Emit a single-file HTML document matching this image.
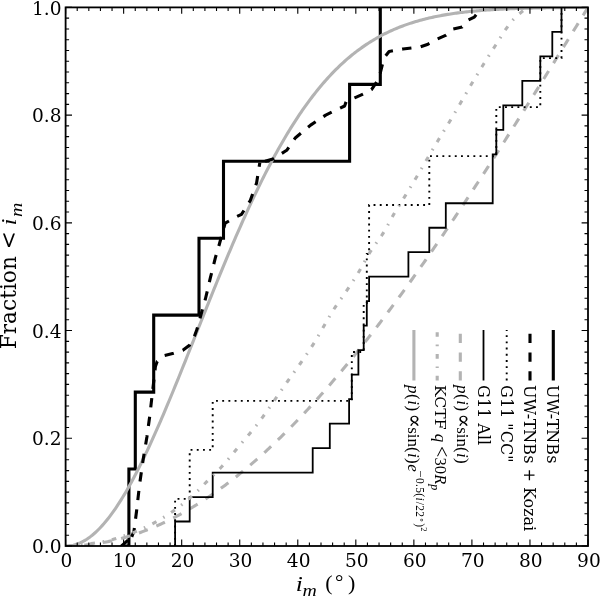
<!DOCTYPE html>
<html><head><meta charset="utf-8"><title>Fraction vs i_m</title>
<style>html,body{margin:0;padding:0;background:#fff}svg{display:block}text{font-family:"DejaVu Serif","Liberation Serif",serif;fill:#000}.m{font-family:"Liberation Serif","DejaVu Serif",serif}.i{font-style:italic}</style></head><body>
<svg width="600" height="597" viewBox="0 0 600 597">
<rect width="600" height="597" fill="#fff"/>
<defs><clipPath id="c"><rect x="65.60" y="7.40" width="522.40" height="538.60"/></clipPath></defs>
<g clip-path="url(#c)" fill="none" stroke-linejoin="miter">
<path d="M121.50 546.00 L128.90 546.00 L128.90 469.06 L135.30 469.06 L135.30 392.11 L153.70 392.11 L153.70 315.17 L199.00 315.17 L199.00 238.23 L223.50 238.23 L223.50 161.29 L349.60 161.29 L349.60 84.34 L380.30 84.34 L380.30 7.40" stroke="#000" stroke-width="3.10"/>
<path d="M66.10 546.00 L67.55 545.97 L69.00 545.87 L70.45 545.70 L71.90 545.46 L73.36 545.16 L74.81 544.79 L76.26 544.36 L77.71 543.86 L79.16 543.29 L80.61 542.65 L82.06 541.95 L83.51 541.19 L84.96 540.36 L86.42 539.46 L87.87 538.50 L89.32 537.47 L90.77 536.38 L92.22 535.23 L93.67 534.02 L95.12 532.74 L96.57 531.40 L98.02 529.99 L99.48 528.53 L100.93 527.00 L102.38 525.42 L103.83 523.78 L105.28 522.07 L106.73 520.31 L108.18 518.49 L109.63 516.62 L111.08 514.68 L112.54 512.69 L113.99 510.65 L115.44 508.55 L116.89 506.40 L118.34 504.20 L119.79 501.94 L121.24 499.64 L122.69 497.28 L124.14 494.87 L125.60 492.42 L127.05 489.91 L128.50 487.36 L129.95 484.77 L131.40 482.13 L132.85 479.44 L134.30 476.71 L135.75 473.94 L137.20 471.13 L138.66 468.27 L140.11 465.38 L141.56 462.45 L143.01 459.48 L144.46 456.47 L145.91 453.43 L147.36 450.36 L148.81 447.25 L150.26 444.10 L151.72 440.93 L153.17 437.72 L154.62 434.49 L156.07 431.23 L157.52 427.94 L158.97 424.62 L160.42 421.28 L161.87 417.91 L163.32 414.52 L164.78 411.11 L166.23 407.67 L167.68 404.22 L169.13 400.74 L170.58 397.25 L172.03 393.74 L173.48 390.22 L174.93 386.68 L176.38 383.12 L177.84 379.55 L179.29 375.97 L180.74 372.38 L182.19 368.78 L183.64 365.17 L185.09 361.55 L186.54 357.92 L187.99 354.29 L189.44 350.65 L190.90 347.01 L192.35 343.37 L193.80 339.72 L195.25 336.07 L196.70 332.42 L198.15 328.77 L199.60 325.12 L201.05 321.48 L202.50 317.84 L203.96 314.20 L205.41 310.56 L206.86 306.93 L208.31 303.31 L209.76 299.70 L211.21 296.09 L212.66 292.49 L214.11 288.90 L215.56 285.33 L217.02 281.76 L218.47 278.21 L219.92 274.66 L221.37 271.13 L222.82 267.62 L224.27 264.12 L225.72 260.63 L227.17 257.17 L228.62 253.71 L230.08 250.28 L231.53 246.86 L232.98 243.46 L234.43 240.09 L235.88 236.73 L237.33 233.39 L238.78 230.07 L240.23 226.77 L241.68 223.50 L243.14 220.24 L244.59 217.01 L246.04 213.80 L247.49 210.62 L248.94 207.46 L250.39 204.32 L251.84 201.21 L253.29 198.13 L254.74 195.07 L256.20 192.04 L257.65 189.03 L259.10 186.05 L260.55 183.09 L262.00 180.17 L263.45 177.27 L264.90 174.39 L266.35 171.55 L267.80 168.74 L269.26 165.95 L270.71 163.19 L272.16 160.46 L273.61 157.76 L275.06 155.09 L276.51 152.44 L277.96 149.83 L279.41 147.25 L280.86 144.69 L282.32 142.17 L283.77 139.67 L285.22 137.21 L286.67 134.77 L288.12 132.37 L289.57 129.99 L291.02 127.65 L292.47 125.33 L293.92 123.05 L295.38 120.79 L296.83 118.57 L298.28 116.37 L299.73 114.21 L301.18 112.07 L302.63 109.97 L304.08 107.89 L305.53 105.84 L306.98 103.83 L308.44 101.84 L309.89 99.88 L311.34 97.95 L312.79 96.05 L314.24 94.18 L315.69 92.34 L317.14 90.53 L318.59 88.74 L320.04 86.98 L321.50 85.25 L322.95 83.55 L324.40 81.88 L325.85 80.23 L327.30 78.61 L328.75 77.02 L330.20 75.46 L331.65 73.92 L333.10 72.41 L334.56 70.92 L336.01 69.47 L337.46 68.03 L338.91 66.62 L340.36 65.24 L341.81 63.88 L343.26 62.55 L344.71 61.24 L346.16 59.96 L347.62 58.70 L349.07 57.47 L350.52 56.25 L351.97 55.06 L353.42 53.90 L354.87 52.75 L356.32 51.63 L357.77 50.53 L359.22 49.46 L360.68 48.40 L362.13 47.37 L363.58 46.36 L365.03 45.36 L366.48 44.39 L367.93 43.44 L369.38 42.51 L370.83 41.60 L372.28 40.70 L373.74 39.83 L375.19 38.98 L376.64 38.14 L378.09 37.32 L379.54 36.52 L380.99 35.74 L382.44 34.97 L383.89 34.23 L385.34 33.50 L386.80 32.78 L388.25 32.08 L389.70 31.40 L391.15 30.74 L392.60 30.09 L394.05 29.45 L395.50 28.83 L396.95 28.22 L398.40 27.63 L399.86 27.05 L401.31 26.49 L402.76 25.94 L404.21 25.40 L405.66 24.88 L407.11 24.37 L408.56 23.87 L410.01 23.39 L411.46 22.92 L412.92 22.45 L414.37 22.01 L415.82 21.57 L417.27 21.14 L418.72 20.73 L420.17 20.32 L421.62 19.93 L423.07 19.54 L424.52 19.17 L425.98 18.80 L427.43 18.45 L428.88 18.10 L430.33 17.77 L431.78 17.44 L433.23 17.12 L434.68 16.82 L436.13 16.52 L437.58 16.22 L439.04 15.94 L440.49 15.66 L441.94 15.39 L443.39 15.13 L444.84 14.88 L446.29 14.63 L447.74 14.39 L449.19 14.16 L450.64 13.94 L452.10 13.72 L453.55 13.50 L455.00 13.30 L456.45 13.10 L457.90 12.90 L459.35 12.71 L460.80 12.53 L462.25 12.35 L463.70 12.18 L465.16 12.01 L466.61 11.85 L468.06 11.69 L469.51 11.54 L470.96 11.39 L472.41 11.25 L473.86 11.11 L475.31 10.98 L476.76 10.85 L478.22 10.72 L479.67 10.60 L481.12 10.48 L482.57 10.37 L484.02 10.26 L485.47 10.15 L486.92 10.05 L488.37 9.94 L489.82 9.85 L491.28 9.75 L492.73 9.66 L494.18 9.57 L495.63 9.49 L497.08 9.41 L498.53 9.33 L499.98 9.25 L501.43 9.18 L502.88 9.11 L504.34 9.04 L505.79 8.97 L507.24 8.90 L508.69 8.84 L510.14 8.78 L511.59 8.72 L513.04 8.67 L514.49 8.61 L515.94 8.56 L517.40 8.51 L518.85 8.46 L520.30 8.41 L521.75 8.37 L523.20 8.33 L524.65 8.28 L526.10 8.24 L527.55 8.20 L529.00 8.17 L530.46 8.13 L531.91 8.09 L533.36 8.06 L534.81 8.03 L536.26 8.00 L537.71 7.97 L539.16 7.94 L540.61 7.91 L542.06 7.88 L543.52 7.86 L544.97 7.83 L546.42 7.81 L547.87 7.78 L549.32 7.76 L550.77 7.74 L552.22 7.72 L553.67 7.70 L555.12 7.68 L556.58 7.66 L558.03 7.64 L559.48 7.63 L560.93 7.61 L562.38 7.60 L563.83 7.58 L565.28 7.57 L566.73 7.55 L568.18 7.54 L569.64 7.53 L571.09 7.51 L572.54 7.50 L573.99 7.49 L575.44 7.48 L576.89 7.47 L578.34 7.46 L579.79 7.45 L581.24 7.44 L582.70 7.43 L584.15 7.42 L585.60 7.42 L587.05 7.41 L588.50 7.40" stroke="#b3b3b3" stroke-width="3.10"/>
<path d="M120.40 546.90 L128.50 539.80 L128.90 537.50 L128.90 539.80 L131.50 537.50 L134.00 531.00 L136.60 510.80 L139.50 485.00 L143.20 459.20 L146.90 437.00 L149.90 414.90 L152.40 392.70 L154.60 374.30 L155.40 366.50 L157.20 361.50 L164.40 355.50 L173.60 353.30 L182.80 350.30 L189.50 345.20 L194.50 336.00 L197.00 329.30 L200.40 316.80 L205.40 299.00 L210.40 277.70 L215.40 257.60 L218.90 245.70 L225.20 223.10 L236.50 216.80 L241.50 214.30 L250.30 200.50 L256.60 182.90 L259.80 162.80" stroke="#000" stroke-width="3.10" stroke-dasharray="9.36 9.36" stroke-dashoffset="-0.8" stroke-linejoin="round"/>
<path d="M259.80 162.80 L272.90 159.00 L286.70 150.30 L295.50 137.70 L310.60 125.10 L325.70 115.10 L344.60 106.00 L346.20 101.50 L355.20 97.60 L363.00 94.20 L371.50 89.60 L377.00 81.50 L380.30 72.90 L384.10 57.80 L389.10 51.50 L402.90 49.00 L420.50 46.80 L428.00 44.20 L437.10 39.20 L446.10 35.20 L453.20 29.10 L462.20 27.10 L468.20 20.10 L474.30 17.10 L480.30 9.50 L482.00 7.30" stroke="#000" stroke-width="3.10" stroke-dasharray="9.36 9.36" stroke-dashoffset="-5.5" stroke-linejoin="round"/>
<path d="M65.60 546.00 L67.05 545.99 L68.50 545.98 L69.95 545.95 L71.40 545.92 L72.86 545.87 L74.31 545.82 L75.76 545.75 L77.21 545.67 L78.66 545.58 L80.11 545.49 L81.56 545.38 L83.01 545.26 L84.46 545.13 L85.92 545.00 L87.37 544.85 L88.82 544.69 L90.27 544.52 L91.72 544.34 L93.17 544.15 L94.62 543.95 L96.07 543.74 L97.52 543.52 L98.98 543.29 L100.43 543.05 L101.88 542.80 L103.33 542.54 L104.78 542.27 L106.23 541.99 L107.68 541.69 L109.13 541.39 L110.58 541.08 L112.04 540.76 L113.49 540.43 L114.94 540.08 L116.39 539.73 L117.84 539.37 L119.29 539.00 L120.74 538.61 L122.19 538.22 L123.64 537.82 L125.10 537.40 L126.55 536.98 L128.00 536.55 L129.45 536.10 L130.90 535.65 L132.35 535.19 L133.80 534.71 L135.25 534.23 L136.70 533.74 L138.16 533.23 L139.61 532.72 L141.06 532.20 L142.51 531.66 L143.96 531.12 L145.41 530.56 L146.86 530.00 L148.31 529.43 L149.76 528.84 L151.22 528.25 L152.67 527.65 L154.12 527.03 L155.57 526.41 L157.02 525.78 L158.47 525.14 L159.92 524.48 L161.37 523.82 L162.82 523.15 L164.28 522.47 L165.73 521.77 L167.18 521.07 L168.63 520.36 L170.08 519.64 L171.53 518.91 L172.98 518.17 L174.43 517.42 L175.88 516.66 L177.34 515.89 L178.79 515.11 L180.24 514.32 L181.69 513.52 L183.14 512.71 L184.59 511.89 L186.04 511.06 L187.49 510.23 L188.94 509.38 L190.40 508.52 L191.85 507.66 L193.30 506.78 L194.75 505.90 L196.20 505.00 L197.65 504.10 L199.10 503.18 L200.55 502.26 L202.00 501.33 L203.46 500.39 L204.91 499.44 L206.36 498.48 L207.81 497.51 L209.26 496.53 L210.71 495.54 L212.16 494.54 L213.61 493.53 L215.06 492.52 L216.52 491.49 L217.97 490.46 L219.42 489.41 L220.87 488.36 L222.32 487.30 L223.77 486.22 L225.22 485.14 L226.67 484.05 L228.12 482.96 L229.58 481.85 L231.03 480.73 L232.48 479.61 L233.93 478.47 L235.38 477.33 L236.83 476.17 L238.28 475.01 L239.73 473.84 L241.18 472.66 L242.64 471.47 L244.09 470.28 L245.54 469.07 L246.99 467.86 L248.44 466.63 L249.89 465.40 L251.34 464.16 L252.79 462.91 L254.24 461.65 L255.70 460.38 L257.15 459.11 L258.60 457.82 L260.05 456.53 L261.50 455.23 L262.95 453.92 L264.40 452.60 L265.85 451.27 L267.30 449.94 L268.76 448.60 L270.21 447.24 L271.66 445.88 L273.11 444.51 L274.56 443.14 L276.01 441.75 L277.46 440.36 L278.91 438.96 L280.36 437.55 L281.82 436.13 L283.27 434.70 L284.72 433.27 L286.17 431.82 L287.62 430.37 L289.07 428.91 L290.52 427.45 L291.97 425.97 L293.42 424.49 L294.88 423.00 L296.33 421.50 L297.78 419.99 L299.23 418.48 L300.68 416.95 L302.13 415.42 L303.58 413.89 L305.03 412.34 L306.48 410.79 L307.94 409.23 L309.39 407.66 L310.84 406.08 L312.29 404.50 L313.74 402.91 L315.19 401.31 L316.64 399.70 L318.09 398.09 L319.54 396.47 L321.00 394.84 L322.45 393.20 L323.90 391.56 L325.35 389.91 L326.80 388.25 L328.25 386.58 L329.70 384.91 L331.15 383.23 L332.60 381.54 L334.06 379.85 L335.51 378.15 L336.96 376.44 L338.41 374.72 L339.86 373.00 L341.31 371.27 L342.76 369.54 L344.21 367.79 L345.66 366.04 L347.12 364.29 L348.57 362.52 L350.02 360.75 L351.47 358.98 L352.92 357.19 L354.37 355.40 L355.82 353.61 L357.27 351.80 L358.72 349.99 L360.18 348.18 L361.63 346.35 L363.08 344.52 L364.53 342.69 L365.98 340.84 L367.43 339.00 L368.88 337.14 L370.33 335.28 L371.78 333.41 L373.24 331.54 L374.69 329.66 L376.14 327.77 L377.59 325.88 L379.04 323.98 L380.49 322.08 L381.94 320.17 L383.39 318.25 L384.84 316.33 L386.30 314.40 L387.75 312.47 L389.20 310.53 L390.65 308.58 L392.10 306.63 L393.55 304.67 L395.00 302.71 L396.45 300.74 L397.90 298.77 L399.36 296.79 L400.81 294.80 L402.26 292.81 L403.71 290.82 L405.16 288.82 L406.61 286.81 L408.06 284.80 L409.51 282.78 L410.96 280.76 L412.42 278.73 L413.87 276.70 L415.32 274.66 L416.77 272.62 L418.22 270.57 L419.67 268.52 L421.12 266.46 L422.57 264.40 L424.02 262.33 L425.48 260.26 L426.93 258.18 L428.38 256.10 L429.83 254.01 L431.28 251.92 L432.73 249.82 L434.18 247.72 L435.63 245.62 L437.08 243.51 L438.54 241.39 L439.99 239.27 L441.44 237.15 L442.89 235.02 L444.34 232.89 L445.79 230.75 L447.24 228.61 L448.69 226.47 L450.14 224.32 L451.60 222.17 L453.05 220.01 L454.50 217.85 L455.95 215.68 L457.40 213.51 L458.85 211.34 L460.30 209.16 L461.75 206.98 L463.20 204.80 L464.66 202.61 L466.11 200.42 L467.56 198.22 L469.01 196.02 L470.46 193.82 L471.91 191.61 L473.36 189.40 L474.81 187.19 L476.26 184.97 L477.72 182.75 L479.17 180.53 L480.62 178.30 L482.07 176.07 L483.52 173.84 L484.97 171.60 L486.42 169.36 L487.87 167.12 L489.32 164.87 L490.78 162.62 L492.23 160.37 L493.68 158.12 L495.13 155.86 L496.58 153.60 L498.03 151.33 L499.48 149.07 L500.93 146.80 L502.38 144.53 L503.84 142.25 L505.29 139.98 L506.74 137.70 L508.19 135.42 L509.64 133.13 L511.09 130.85 L512.54 128.56 L513.99 126.27 L515.44 123.97 L516.90 121.68 L518.35 119.38 L519.80 117.08 L521.25 114.78 L522.70 112.48 L524.15 110.17 L525.60 107.86 L527.05 105.55 L528.50 103.24 L529.96 100.93 L531.41 98.61 L532.86 96.29 L534.31 93.98 L535.76 91.66 L537.21 89.33 L538.66 87.01 L540.11 84.69 L541.56 82.36 L543.02 80.03 L544.47 77.70 L545.92 75.37 L547.37 73.04 L548.82 70.71 L550.27 68.37 L551.72 66.04 L553.17 63.70 L554.62 61.36 L556.08 59.02 L557.53 56.68 L558.98 54.34 L560.43 52.00 L561.88 49.66 L563.33 47.31 L564.78 44.97 L566.23 42.63 L567.68 40.28 L569.14 37.93 L570.59 35.59 L572.04 33.24 L573.49 30.89 L574.94 28.55 L576.39 26.20 L577.84 23.85 L579.29 21.50 L580.74 19.15 L582.20 16.80 L583.65 14.45 L585.10 12.10 L586.55 9.75 L588.00 7.40" stroke="#b3b3b3" stroke-width="3.10" stroke-dasharray="9.36 9.36"/>
<path d="M175.10 546.00 L175.10 498.84 L189.70 498.84 L189.70 449.87 L212.70 449.87 L212.70 400.91 L351.80 400.91 L351.80 351.95 L363.70 351.95 L363.70 302.98 L366.80 302.98 L366.80 254.02 L369.10 254.02 L369.10 205.05 L429.30 205.05 L429.30 156.09 L496.30 156.09 L496.30 107.13 L540.30 107.13 L540.30 58.16 L561.50 58.16 L561.50 9.20" stroke="#000" stroke-width="1.9" stroke-dasharray="1.9 4.3"/>
<path d="M175.10 546.00 L175.10 521.52 L189.70 521.52 L189.70 497.04 L212.70 497.04 L212.70 472.55 L312.70 472.55 L312.70 448.07 L329.80 448.07 L329.80 423.59 L349.10 423.59 L349.10 399.11 L351.80 399.11 L351.80 374.63 L358.40 374.63 L358.40 350.15 L363.70 350.15 L363.70 325.66 L366.80 325.66 L366.80 301.18 L369.10 301.18 L369.10 276.70 L408.40 276.70 L408.40 252.22 L429.30 252.22 L429.30 227.74 L445.80 227.74 L445.80 203.25 L492.70 203.25 L492.70 154.29 L496.30 154.29 L496.30 129.81 L503.30 129.81 L503.30 105.33 L522.30 105.33 L522.30 80.85 L540.30 80.85 L540.30 56.36 L552.30 56.36 L552.30 31.88 L561.50 31.88 L561.50 7.40" stroke="#000" stroke-width="1.80"/>
<path d="M65.60 545.70 L67.92 545.68 L70.24 545.61 L72.56 545.51 L74.87 545.37 L77.19 545.19 L79.51 544.99 L81.83 544.75 L84.15 544.49 L86.47 544.21 L88.79 543.90 L91.10 543.58 L93.42 543.24 L95.74 542.89 L98.06 542.53 L100.38 542.17 L102.70 541.80 L105.02 541.40 L107.33 540.92 L109.65 540.37 L111.97 539.76 L114.29 539.09 L116.61 538.38 L118.93 537.63 L121.25 536.86 L123.56 536.07 L125.88 535.28 L128.20 534.48 L130.52 533.64 L132.84 532.76 L135.16 531.83 L137.48 530.87 L139.79 529.87 L142.11 528.84 L144.43 527.77 L146.75 526.68 L149.07 525.54 L151.39 524.35 L153.71 523.13 L156.03 521.85 L158.34 520.54 L160.66 519.18 L162.98 517.78 L165.30 516.34 L167.62 514.86 L169.94 513.34 L172.26 511.77 L174.57 510.14 L176.89 508.45 L179.21 506.70 L181.53 504.89 L183.85 503.04 L186.17 501.13 L188.49 499.18 L190.80 497.19 L193.12 495.16 L195.44 493.04 L197.76 490.79 L200.08 488.46 L202.40 486.08 L204.72 483.71 L207.03 481.37 L209.35 479.08 L211.67 476.81 L213.99 474.54 L216.31 472.25 L218.63 469.92 L220.95 467.52 L223.26 465.04 L225.58 462.44 L227.90 459.74 L230.22 456.96 L232.54 454.13 L234.86 451.27 L237.18 448.42 L239.49 445.61 L241.81 442.84 L244.13 440.12 L246.45 437.41 L248.77 434.69 L251.09 431.94 L253.41 429.13 L255.72 426.24 L258.04 423.26 L260.36 420.19 L262.68 417.05 L265.00 413.85 L267.32 410.60 L269.64 407.30 L271.95 403.97 L274.27 400.61 L276.59 397.24 L278.91 393.86 L281.23 390.49 L283.55 387.13 L285.87 383.80 L288.18 380.49 L290.50 377.23 L292.82 374.00 L295.14 370.78 L297.46 367.54 L299.78 364.25 L302.12 360.89 L304.47 357.50 L306.81 354.06 L309.16 350.56 L311.51 346.99 L313.85 343.31 L316.20 339.48 L318.55 335.51 L320.89 331.43 L323.24 327.31 L325.59 323.18 L327.93 319.09 L330.28 315.09 L332.63 311.22 L334.97 307.53 L337.32 304.05 L339.66 300.70 L342.01 297.42 L344.36 294.12 L346.70 290.73 L349.05 287.21 L351.40 283.63 L353.74 279.99 L356.09 276.28 L358.44 272.47 L360.78 268.54 L363.13 264.35 L365.47 260.04 L367.82 255.81 L370.17 251.88 L372.51 248.33 L374.86 245.01 L377.21 241.80 L379.55 238.56 L381.90 235.15 L384.25 231.43 L386.59 227.36 L388.94 223.08 L391.29 218.76 L393.63 214.57 L395.98 210.63 L398.32 206.82 L400.67 203.08 L403.00 199.36 L405.31 195.60 L407.63 191.81 L409.95 188.02 L412.27 184.22 L414.59 180.39 L416.91 176.51 L419.23 172.57 L421.54 168.57 L423.86 164.55 L426.18 160.55 L428.50 156.59 L430.82 152.67 L433.14 148.77 L435.46 144.90 L437.77 141.03 L440.09 137.18 L442.41 133.37 L444.73 129.58 L447.05 125.79 L449.37 121.98 L451.69 118.12 L454.01 114.19 L456.32 110.23 L458.64 106.24 L460.96 102.25 L463.28 98.26 L465.60 94.25 L467.92 90.23 L470.24 86.24 L472.55 82.31 L474.87 78.43 L477.19 74.59 L479.51 70.78 L481.83 67.00 L484.15 63.26 L486.47 59.56 L488.78 55.89 L491.10 52.24 L493.42 48.61 L495.74 44.98 L498.06 41.29 L500.38 37.56 L502.70 33.89 L505.01 30.37 L507.33 27.09 L509.65 23.95 L511.97 21.04 L514.29 18.49 L516.61 16.22 L518.93 14.15 L521.24 12.24 L523.56 10.45 L525.88 8.80 L528.20 7.30" stroke="#b3b3b3" stroke-width="3.10" stroke-dasharray="4.68 7.80 1.56 7.80" stroke-dashoffset="-3"/>
</g>
<path d="M65.60 546.00v-6.40 M65.60 7.40v6.40 M77.21 546.00v-3.50 M77.21 7.40v3.50 M88.82 546.00v-3.50 M88.82 7.40v3.50 M100.43 546.00v-3.50 M100.43 7.40v3.50 M112.04 546.00v-3.50 M112.04 7.40v3.50 M123.64 546.00v-6.40 M123.64 7.40v6.40 M135.25 546.00v-3.50 M135.25 7.40v3.50 M146.86 546.00v-3.50 M146.86 7.40v3.50 M158.47 546.00v-3.50 M158.47 7.40v3.50 M170.08 546.00v-3.50 M170.08 7.40v3.50 M181.69 546.00v-6.40 M181.69 7.40v6.40 M193.30 546.00v-3.50 M193.30 7.40v3.50 M204.91 546.00v-3.50 M204.91 7.40v3.50 M216.52 546.00v-3.50 M216.52 7.40v3.50 M228.12 546.00v-3.50 M228.12 7.40v3.50 M239.73 546.00v-6.40 M239.73 7.40v6.40 M251.34 546.00v-3.50 M251.34 7.40v3.50 M262.95 546.00v-3.50 M262.95 7.40v3.50 M274.56 546.00v-3.50 M274.56 7.40v3.50 M286.17 546.00v-3.50 M286.17 7.40v3.50 M297.78 546.00v-6.40 M297.78 7.40v6.40 M309.39 546.00v-3.50 M309.39 7.40v3.50 M321.00 546.00v-3.50 M321.00 7.40v3.50 M332.60 546.00v-3.50 M332.60 7.40v3.50 M344.21 546.00v-3.50 M344.21 7.40v3.50 M355.82 546.00v-6.40 M355.82 7.40v6.40 M367.43 546.00v-3.50 M367.43 7.40v3.50 M379.04 546.00v-3.50 M379.04 7.40v3.50 M390.65 546.00v-3.50 M390.65 7.40v3.50 M402.26 546.00v-3.50 M402.26 7.40v3.50 M413.87 546.00v-6.40 M413.87 7.40v6.40 M425.48 546.00v-3.50 M425.48 7.40v3.50 M437.08 546.00v-3.50 M437.08 7.40v3.50 M448.69 546.00v-3.50 M448.69 7.40v3.50 M460.30 546.00v-3.50 M460.30 7.40v3.50 M471.91 546.00v-6.40 M471.91 7.40v6.40 M483.52 546.00v-3.50 M483.52 7.40v3.50 M495.13 546.00v-3.50 M495.13 7.40v3.50 M506.74 546.00v-3.50 M506.74 7.40v3.50 M518.35 546.00v-3.50 M518.35 7.40v3.50 M529.96 546.00v-6.40 M529.96 7.40v6.40 M541.56 546.00v-3.50 M541.56 7.40v3.50 M553.17 546.00v-3.50 M553.17 7.40v3.50 M564.78 546.00v-3.50 M564.78 7.40v3.50 M576.39 546.00v-3.50 M576.39 7.40v3.50 M588.00 546.00v-6.40 M588.00 7.40v6.40 M65.60 546.00h6.40 M588.00 546.00h-6.40 M65.60 535.23h3.50 M588.00 535.23h-3.50 M65.60 524.46h3.50 M588.00 524.46h-3.50 M65.60 513.68h3.50 M588.00 513.68h-3.50 M65.60 502.91h3.50 M588.00 502.91h-3.50 M65.60 492.14h3.50 M588.00 492.14h-3.50 M65.60 481.37h3.50 M588.00 481.37h-3.50 M65.60 470.60h3.50 M588.00 470.60h-3.50 M65.60 459.82h3.50 M588.00 459.82h-3.50 M65.60 449.05h3.50 M588.00 449.05h-3.50 M65.60 438.28h6.40 M588.00 438.28h-6.40 M65.60 427.51h3.50 M588.00 427.51h-3.50 M65.60 416.74h3.50 M588.00 416.74h-3.50 M65.60 405.96h3.50 M588.00 405.96h-3.50 M65.60 395.19h3.50 M588.00 395.19h-3.50 M65.60 384.42h3.50 M588.00 384.42h-3.50 M65.60 373.65h3.50 M588.00 373.65h-3.50 M65.60 362.88h3.50 M588.00 362.88h-3.50 M65.60 352.10h3.50 M588.00 352.10h-3.50 M65.60 341.33h3.50 M588.00 341.33h-3.50 M65.60 330.56h6.40 M588.00 330.56h-6.40 M65.60 319.79h3.50 M588.00 319.79h-3.50 M65.60 309.02h3.50 M588.00 309.02h-3.50 M65.60 298.24h3.50 M588.00 298.24h-3.50 M65.60 287.47h3.50 M588.00 287.47h-3.50 M65.60 276.70h3.50 M588.00 276.70h-3.50 M65.60 265.93h3.50 M588.00 265.93h-3.50 M65.60 255.16h3.50 M588.00 255.16h-3.50 M65.60 244.38h3.50 M588.00 244.38h-3.50 M65.60 233.61h3.50 M588.00 233.61h-3.50 M65.60 222.84h6.40 M588.00 222.84h-6.40 M65.60 212.07h3.50 M588.00 212.07h-3.50 M65.60 201.30h3.50 M588.00 201.30h-3.50 M65.60 190.52h3.50 M588.00 190.52h-3.50 M65.60 179.75h3.50 M588.00 179.75h-3.50 M65.60 168.98h3.50 M588.00 168.98h-3.50 M65.60 158.21h3.50 M588.00 158.21h-3.50 M65.60 147.44h3.50 M588.00 147.44h-3.50 M65.60 136.66h3.50 M588.00 136.66h-3.50 M65.60 125.89h3.50 M588.00 125.89h-3.50 M65.60 115.12h6.40 M588.00 115.12h-6.40 M65.60 104.35h3.50 M588.00 104.35h-3.50 M65.60 93.58h3.50 M588.00 93.58h-3.50 M65.60 82.80h3.50 M588.00 82.80h-3.50 M65.60 72.03h3.50 M588.00 72.03h-3.50 M65.60 61.26h3.50 M588.00 61.26h-3.50 M65.60 50.49h3.50 M588.00 50.49h-3.50 M65.60 39.72h3.50 M588.00 39.72h-3.50 M65.60 28.94h3.50 M588.00 28.94h-3.50 M65.60 18.17h3.50 M588.00 18.17h-3.50 M65.60 7.40h6.40 M588.00 7.40h-6.40" stroke="#000" stroke-width="1.1" fill="none"/>
<rect x="65.60" y="7.40" width="522.40" height="538.60" fill="none" stroke="#000" stroke-width="1.8"/>
<text x="66.50" y="566.80" font-size="18.6" text-anchor="middle">0</text>
<text x="124.54" y="566.80" font-size="18.6" text-anchor="middle">10</text>
<text x="182.59" y="566.80" font-size="18.6" text-anchor="middle">20</text>
<text x="240.63" y="566.80" font-size="18.6" text-anchor="middle">30</text>
<text x="298.68" y="566.80" font-size="18.6" text-anchor="middle">40</text>
<text x="356.72" y="566.80" font-size="18.6" text-anchor="middle">50</text>
<text x="414.77" y="566.80" font-size="18.6" text-anchor="middle">60</text>
<text x="472.81" y="566.80" font-size="18.6" text-anchor="middle">70</text>
<text x="530.86" y="566.80" font-size="18.6" text-anchor="middle">80</text>
<text x="588.90" y="566.80" font-size="18.6" text-anchor="middle">90</text>
<text x="61.50" y="553.20" font-size="18.6" text-anchor="end">0.0</text>
<text x="61.50" y="445.48" font-size="18.6" text-anchor="end">0.2</text>
<text x="61.50" y="337.76" font-size="18.6" text-anchor="end">0.4</text>
<text x="61.50" y="230.04" font-size="18.6" text-anchor="end">0.6</text>
<text x="61.50" y="122.32" font-size="18.6" text-anchor="end">0.8</text>
<text x="61.50" y="14.60" font-size="18.6" text-anchor="end">1.0</text>
<text transform="translate(16 349.3) rotate(-90)" font-size="21.7">Fraction &lt;</text>
<text class="m i" transform="translate(16 225.6) rotate(-90) scale(1.15 1)" font-size="22">i</text>
<text class="m i" transform="translate(21.5 217.0) rotate(-90) scale(1.2 1)" font-size="16.5">m</text>
<text class="m i" transform="translate(295.8 591.3) scale(1.15 1)" font-size="22">i</text>
<text class="m i" transform="translate(302.6 596.2) scale(1.2 1)" font-size="16.5">m</text>
<text class="m" x="325.2" y="590.2" font-size="22">(</text>
<text class="m" x="334.9" y="588.6" font-size="21">°</text>
<text class="m" x="347.9" y="590.2" font-size="22">)</text>
<path d="M553.30 380.50V330.00" stroke="#000" stroke-width="3.10" fill="none"/>
<path d="M530.00 380.50V330.00" stroke="#000" stroke-width="3.10" fill="none" stroke-dasharray="9.36 9.36"/>
<path d="M506.70 380.50V330.00" stroke="#000" stroke-width="1.90" fill="none" stroke-dasharray="1.9 4.3"/>
<path d="M483.50 380.50V330.00" stroke="#000" stroke-width="1.80" fill="none"/>
<path d="M460.30 380.50V330.00" stroke="#b3b3b3" stroke-width="3.10" fill="none" stroke-dasharray="9.36 9.36"/>
<path d="M437.20 380.50V330.00" stroke="#b3b3b3" stroke-width="3.10" fill="none" stroke-dasharray="4.68 7.80 1.56 7.80"/>
<path d="M413.90 380.50V330.00" stroke="#b3b3b3" stroke-width="3.10" fill="none"/>
<text xml:space="preserve" transform="translate(547.40 385.10) rotate(90)" font-size="16.0">UW-TNBs</text>
<text xml:space="preserve" transform="translate(524.10 385.10) rotate(90)" font-size="16.0">UW-TNBs + Kozai</text>
<text xml:space="preserve" transform="translate(500.80 385.10) rotate(90)" font-size="16.0">G11 "CC"</text>
<text xml:space="preserve" transform="translate(477.60 385.10) rotate(90)" font-size="16.0">G11 All</text>
<text xml:space="preserve" transform="translate(456.80 385.10) rotate(90)" font-size="16.0"><tspan class="m i" font-size="17">p</tspan><tspan class="m" font-size="17" dx="0.4">(</tspan><tspan class="m i" font-size="17" dx="0.5">i</tspan><tspan class="m" font-size="17" dx="0.5">) </tspan><tspan class="m" font-size="21.5" dx="-1.75">∝</tspan><tspan class="m" font-size="17" dx="-0.9">sin(</tspan><tspan class="m i" font-size="17" dx="0.3">i</tspan><tspan class="m" font-size="17" dx="0.3">)</tspan></text>
<text xml:space="preserve" transform="translate(434.90 385.10) rotate(90)" font-size="16.0"><tspan font-size="15.6" xml:space="preserve">KCTF </tspan><tspan class="m i" font-size="17" dx="-0.66">q</tspan><tspan class="m" font-size="17"> </tspan><tspan class="m" font-size="20" dx="-0.65">&lt;</tspan><tspan class="m" font-size="16.5" dx="0.3">30</tspan><tspan class="m i" font-size="16.5" dx="0.2">R</tspan><tspan class="m i" font-size="12" dy="3.5">p</tspan></text>
<text xml:space="preserve" transform="translate(408.40 385.10) rotate(90)" font-size="16.0"><tspan class="m i" font-size="17">p</tspan><tspan class="m" font-size="17" dx="0.4">(</tspan><tspan class="m i" font-size="17" dx="0.5">i</tspan><tspan class="m" font-size="17" dx="0.5">) </tspan><tspan class="m" font-size="21.5" dx="-1.75">∝</tspan><tspan class="m" font-size="17" dx="-0.9">sin(</tspan><tspan class="m i" font-size="17" dx="0.3">i</tspan><tspan class="m" font-size="17" dx="0.3">)</tspan><tspan class="m i" font-size="17" dx="0.6">e</tspan><tspan class="m" font-size="12.5" dy="-7.5" dx="-1.6">−</tspan><tspan class="m" font-size="11.5" dx="0.6" letter-spacing="0.35">0.5(</tspan><tspan class="m i" font-size="11.5">i</tspan><tspan class="m" font-size="11.5" dx="0.9" letter-spacing="0.35">/22</tspan><tspan class="m" font-size="8.5" dy="-3" dx="0.3">∘</tspan><tspan class="m" font-size="11.5" dy="3" dx="1.3">)</tspan><tspan class="m" font-size="8.5" dy="-5" dx="0.3">2</tspan></text>
</svg></body></html>
